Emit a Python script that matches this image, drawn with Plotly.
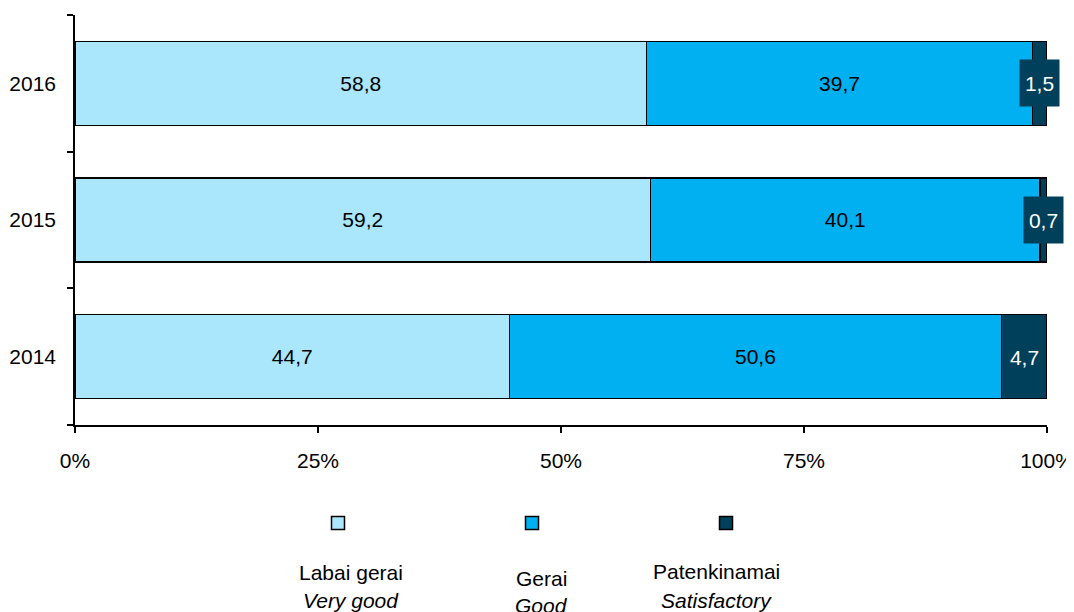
import plotly.graph_objects as go

years = ["2014", "2015", "2016"]
very_good = [44.7, 59.2, 58.8]
good = [50.6, 40.1, 39.7]
satisfactory = [4.7, 0.7, 1.5]
series_lt = ["Labai gerai", "Gerai", "Patenkinamai"]
series_en = ["Very good", "Good", "Satisfactory"]
colors = ["#ABE7FC", "#00B0F0", "#00405A"]
x_ticks = [0, 25, 50, 75, 100]
x_tick_labels = ["0%", "25%", "50%", "75%", "100%"]

OFF = 8  # page body margin
W, H = 1074 - OFF, 612 - OFF
L = 75 - OFF
T = 15 - OFF
R = W - (1047 - OFF)
B = H - (425 - OFF)
pw, ph = W - L - R, H - T - B
FONT = "Liberation Sans, Arial"
FS = 21


def fmt(v):
    return f"{v:.1f}".replace(".", ",")


def px_x(px):
    return (px - OFF - L) / pw


def px_y(py):
    return (H - B - (py - OFF)) / ph


fig = go.Figure()
data = [very_good, good, satisfactory]
for i, vals in enumerate(data):
    show_text = i < 2
    fig.add_trace(go.Bar(
        y=years, x=vals, orientation="h", name=series_lt[i],
        marker=dict(color=colors[i], line=dict(color="black", width=1.5)),
        text=[fmt(v) for v in vals] if show_text else None,
        textposition="inside", insidetextanchor="middle",
        textfont=dict(color="black", size=FS, family=FONT),
        showlegend=False, hoverinfo="skip",
    ))

# labels for the dark series, boxed like the original
for idx, (vg, g, s) in enumerate(zip(very_good, good, satisfactory)):
    xc = vg + g + s / 2
    fig.add_annotation(x=xc, y=idx, xref="x", yref="y", text=fmt(s),
                       showarrow=False, bgcolor=colors[2],
                       font=dict(color="white", size=FS, family=FONT),
                       width=37, height=44, align="center", valign="middle")

# custom legend
sq_x = [338, 532, 726]
sq_y = 523
half = 6.5
txt_x = [351, 541, 716]
txt_y = [[572, 600], [578, 605], [571, 600]]
for i in range(3):
    fig.add_shape(type="rect", xref="paper", yref="paper",
                  x0=px_x(sq_x[i] - half), x1=px_x(sq_x[i] + half),
                  y0=px_y(sq_y + half), y1=px_y(sq_y - half),
                  fillcolor=colors[i], line=dict(color="black", width=1.5))
    fig.add_annotation(x=px_x(txt_x[i]), y=px_y(txt_y[i][0]), xref="paper", yref="paper",
                       text=series_lt[i], showarrow=False, xanchor="center", yanchor="middle",
                       font=dict(size=FS, color="black", family=FONT))
    fig.add_annotation(x=px_x(txt_x[i]), y=px_y(txt_y[i][1]), xref="paper", yref="paper",
                       text=f"<i>{series_en[i]}</i>", showarrow=False, xanchor="center", yanchor="middle",
                       font=dict(size=FS, color="black", family=FONT))

fig.update_layout(
    barmode="stack", bargap=0.385,
    width=W, height=H, margin=dict(l=L, r=R, t=T, b=B, pad=0, autoexpand=False),
    plot_bgcolor="white", paper_bgcolor="white",
    font=dict(family=FONT, size=FS, color="black"),
    xaxis=dict(range=[0, 100], tickvals=x_ticks, ticktext=x_tick_labels,
               showgrid=False, zeroline=False, showline=True, linecolor="black", linewidth=1.5,
               ticks="outside", ticklen=6, tickwidth=1.5, tickcolor="black", automargin=False,
               tickfont=dict(size=FS), ticklabelstandoff=10, fixedrange=True),
    yaxis=dict(type="category", categoryorder="array", categoryarray=years,
               range=[-0.5, 2.5], tickson="boundaries", automargin=False,
               showgrid=False, zeroline=False, showline=True, linecolor="black", linewidth=1.5,
               ticks="outside", ticklen=6, tickwidth=1.5, tickcolor="black",
               tickfont=dict(size=FS), ticklabelstandoff=13),
)

fig.write_html("out.html")
